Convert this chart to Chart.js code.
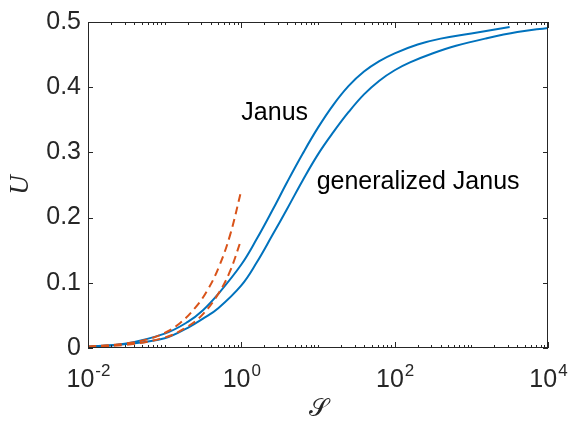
<!DOCTYPE html>
<html>
<head>
<meta charset="utf-8">
<script src="https://cdn.jsdelivr.net/npm/chart.js@4.4.0/dist/chart.umd.min.js"></script>
<style>
  html, body { margin: 0; padding: 0; background: #fff; }
  #wrap { width: 570px; height: 423px; }
</style>
</head>
<body>
<div id="wrap"><canvas id="chart" width="570" height="423"></canvas></div>
<script>
// ---- data ----
// Janus (upper solid curve)
const janusS = [0.01, 0.0316, 0.1, 0.2, 0.316, 0.5, 1, 1.585, 2.512, 3.981, 6.31, 10, 15.85, 25.12, 39.81, 63.1, 100, 199.5, 398.1, 1000, 3162];
const janusU = [0.002, 0.007, 0.022, 0.040, 0.058, 0.083, 0.128, 0.167, 0.210, 0.255, 0.298, 0.338, 0.373, 0.402, 0.424, 0.440, 0.452, 0.4655, 0.4745, 0.4825, 0.4925];

// generalized Janus (lower solid curve)
const genS = [0.01, 0.0316, 0.1, 0.2, 0.316, 0.5, 1, 1.585, 2.512, 3.981, 6.31, 10, 15.85, 25.12, 39.81, 63.1, 100, 158.5, 316.2, 631, 1585, 3981, 10000];
const genU = [0.002, 0.006, 0.015, 0.031, 0.045, 0.061, 0.096, 0.131, 0.172, 0.214, 0.257, 0.297, 0.331, 0.362, 0.389, 0.410, 0.426, 0.438, 0.452, 0.4635, 0.475, 0.4845, 0.491];

// small-S asymptotes (dashed)
const asymAS = [0.01, 0.0316, 0.063, 0.1, 0.158, 0.251, 0.355, 0.5, 0.708, 1];
const asymAU = [0.002, 0.007, 0.014, 0.023, 0.038, 0.062, 0.087, 0.122, 0.172, 0.242];
const asymBS = [0.01, 0.0316, 0.1, 0.2, 0.316, 0.5, 0.708, 1];
const asymBU = [0.002, 0.005, 0.016, 0.033, 0.052, 0.083, 0.117, 0.167];

// axes
const xDecades = [-2, -1, 0, 1, 2, 3];
const xLabelExp = [-2, 0, 2, 4];
const labelText = ["Janus", "generalized Janus"];
const labelS = [1.0, 9.6];
const labelU = [0.36, 0.255];

const blue = "#0072BD";
const orange = "#D95319";
const axisColor = "#262626";
const sans = '"Liberation Sans", Arial, sans-serif';

function pts(xs, ys) {
    return xs.map((x, i) => ({x: x, y: ys[i]}));
}

// tick marks inside the box, labels with superscripts, text notes
const axisBox = {
    id: 'axisBox',
    afterDraw(chart) {
        const ctx = chart.ctx;
        const a = chart.chartArea;
        const xs = chart.scales.x;
        const ys = chart.scales.y;
        ctx.save();
        ctx.strokeStyle = axisColor;
        ctx.lineWidth = 1;
        ctx.strokeRect(Math.round(a.left) + 0.5, Math.round(a.top) + 0.5,
            Math.round(a.right - a.left) - 1, Math.round(a.bottom - a.top) - 1);

        ctx.beginPath();
        xs.ticks.forEach(t => {
            let px = Math.round(xs.getPixelForValue(t.value)) + 0.5;
            let e = Math.log10(t.value);
            let len = xLabelExp.some(v => Math.abs(v - e) < 1e-6) ? 6 : 3;
            ctx.moveTo(px, a.bottom);
            ctx.lineTo(px, a.bottom - len);
            ctx.moveTo(px, a.top);
            ctx.lineTo(px, a.top + len);
        });
        ys.ticks.forEach(t => {
            let py = Math.round(ys.getPixelForValue(t.value)) + 0.5;
            ctx.moveTo(a.left, py);
            ctx.lineTo(a.left + 5, py);
            ctx.moveTo(a.right, py);
            ctx.lineTo(a.right - 5, py);
        });
        ctx.stroke();

        // x tick labels 10^n
        ctx.fillStyle = axisColor;
        ctx.textBaseline = 'alphabetic';
        ctx.textAlign = 'left';
        xLabelExp.forEach(e => {
            let px = xs.getPixelForValue(Math.pow(10, e));
            ctx.font = '25px ' + sans;
            let wb = ctx.measureText("10").width;
            ctx.font = '17px ' + sans;
            let ex = String(e);
            let we = ctx.measureText(ex).width;
            let x0 = px - (wb + we) / 2;
            ctx.font = '25px ' + sans;
            ctx.fillText("10", x0, 387);
            ctx.font = '17px ' + sans;
            ctx.fillText(ex, x0 + wb + 1, 376);
        });

        // curve names
        ctx.fillStyle = '#000';
        ctx.font = '25px ' + sans;
        ctx.textBaseline = 'middle';
        labelText.forEach((s, i) => {
            ctx.fillText(s, xs.getPixelForValue(labelS[i]), ys.getPixelForValue(labelU[i]));
        });
        ctx.restore();
    }
};

const chart = new Chart(document.getElementById('chart'), {
    type: 'line',
    data: {
        datasets: [
            {data: pts(janusS, janusU), borderColor: blue, borderWidth: 2, order: 2},
            {data: pts(genS, genU), borderColor: blue, borderWidth: 2, order: 2},
            {data: pts(asymAS, asymAU), borderColor: orange, borderWidth: 2, borderDash: [8, 5], order: 1},
            {data: pts(asymBS, asymBU), borderColor: orange, borderWidth: 2, borderDash: [8, 5], order: 1}
        ]
    },
    options: {
        responsive: false,
        animation: false,
        events: [],
        layout: { padding: {top: 15, right: 22, left: 0, bottom: 0} },
        elements: {
            point: { radius: 0 },
            line: { tension: 0.4, fill: false }
        },
        plugins: {
            legend: { display: false },
            tooltip: { enabled: false }
        },
        scales: {
            x: {
                type: 'logarithmic',
                min: 0.01,
                max: 10000,
                grid: { display: false, drawTicks: false },
                border: { display: false },
                ticks: { display: false },
                title: {
                    display: true,
                    text: '𝒮',
                    color: axisColor,
                    padding: {top: 0, bottom: 1},
                    font: { family: '"DejaVu Serif", "Liberation Serif", serif', size: 25, lineHeight: 1 }
                },
                afterBuildTicks: (s) => {
                    let t = [];
                    xDecades.forEach(d => {
                        for (let m = 1; m <= 9; m++) {
                            t.push({value: m * Math.pow(10, d)});
                        }
                    });
                    t.push({value: 10000});
                    s.ticks = t;
                },
                afterFit: (s) => { s.height = 75; }
            },
            y: {
                min: 0,
                max: 0.5,
                grid: { display: false, drawTicks: false },
                border: { display: false },
                ticks: {
                    stepSize: 0.1,
                    padding: 7,
                    color: axisColor,
                    font: { family: sans, size: 25 },
                    callback: (v) => +v.toFixed(1)
                },
                title: {
                    display: true,
                    text: 'U',
                    color: axisColor,
                    padding: {top: 7, bottom: 0},
                    font: { family: '"Liberation Serif", "DejaVu Serif", serif', size: 27, style: 'italic', lineHeight: 1 }
                },
                afterFit: (s) => { s.width = 88; }
            }
        }
    },
    plugins: [axisBox]
});
</script>
</body>
</html>
